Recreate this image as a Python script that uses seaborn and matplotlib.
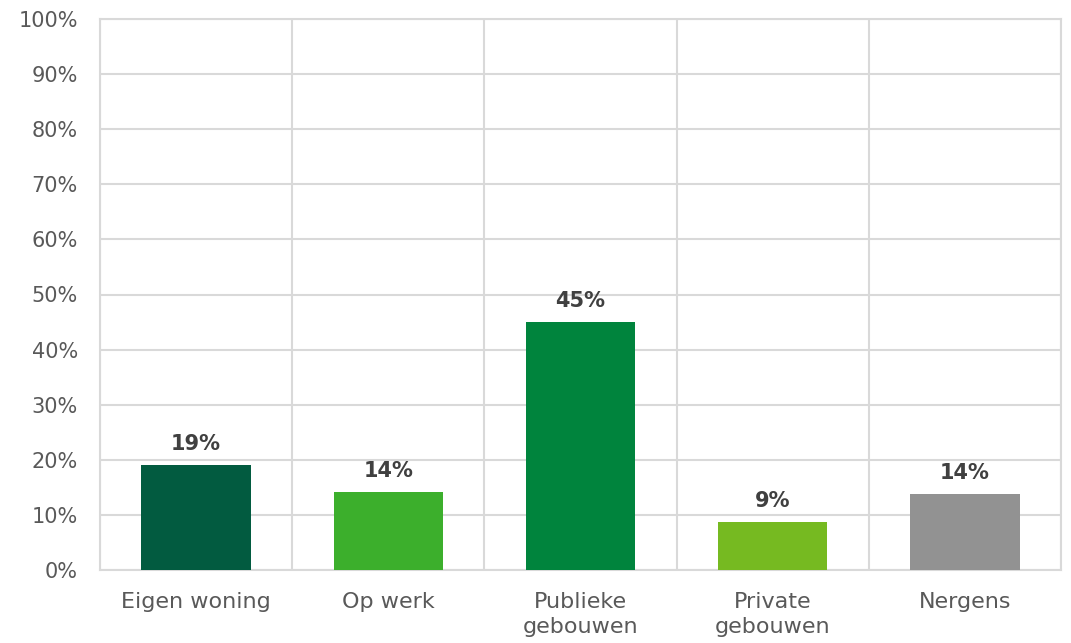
import numpy as np
import pandas as pd
import matplotlib
matplotlib.use('Agg')
import matplotlib.pyplot as plt
import seaborn as sns

categories = ['Eigen woning', 'Op werk', 'Publieke\ngebouwen', 'Private\ngebouwen', 'Nergens']
values = [19.0, 14.2, 45.0, 8.7, 13.8]
colors = ['#025B40', '#3CAF2C', '#00843D', '#76BA21', '#929292']
y_ticks = np.arange(0, 101, 10)

df = pd.DataFrame({'Locatie': categories, 'Percentage': values})

sns.set_style('white')
plt.rcParams['font.family'] = ['DejaVu Sans']

fig = plt.figure(figsize=(10.71, 6.43), dpi=100)
ax = fig.add_axes([100 / 1071, 1 - 570 / 643, 961 / 1071, 551 / 643])

sns.barplot(data=df, x='Locatie', y='Percentage', hue='Locatie', palette=colors,
            legend=False, width=0.57, saturation=1, linewidth=0, ax=ax, zorder=3)

# value labels above each bar
for container, v in zip(ax.containers, values):
    ax.bar_label(container, labels=[f'{round(v)}%'], padding=8, fontsize=15,
                 fontweight='bold', color='#404040')

ax.set_ylim(0, 100)
ax.set_xlim(-0.5, len(categories) - 0.5)
ax.set_yticks(y_ticks)
ax.set_yticklabels([f'{t}%' for t in y_ticks])
ax.set_xticks(range(len(categories)))
ax.set_xticklabels(categories, linespacing=1.3)
ax.set_xticks(np.arange(-0.5, len(categories), 1), minor=True)
ax.set_xlabel('')
ax.set_ylabel('')

ax.grid(axis='y', color='#D9D9D9', linewidth=1.5, zorder=0)
ax.grid(axis='x', which='minor', color='#D9D9D9', linewidth=1.5, zorder=0)
ax.grid(axis='x', which='major', visible=False)
for s in ax.spines.values():
    s.set_color('#D9D9D9')
    s.set_linewidth(1.5)

ax.tick_params(axis='both', which='both', length=0, labelcolor='#595959')
ax.tick_params(axis='y', pad=16, labelsize=15)
ax.tick_params(axis='x', pad=16, labelsize=16)

fig.savefig('out.png', dpi=100)
